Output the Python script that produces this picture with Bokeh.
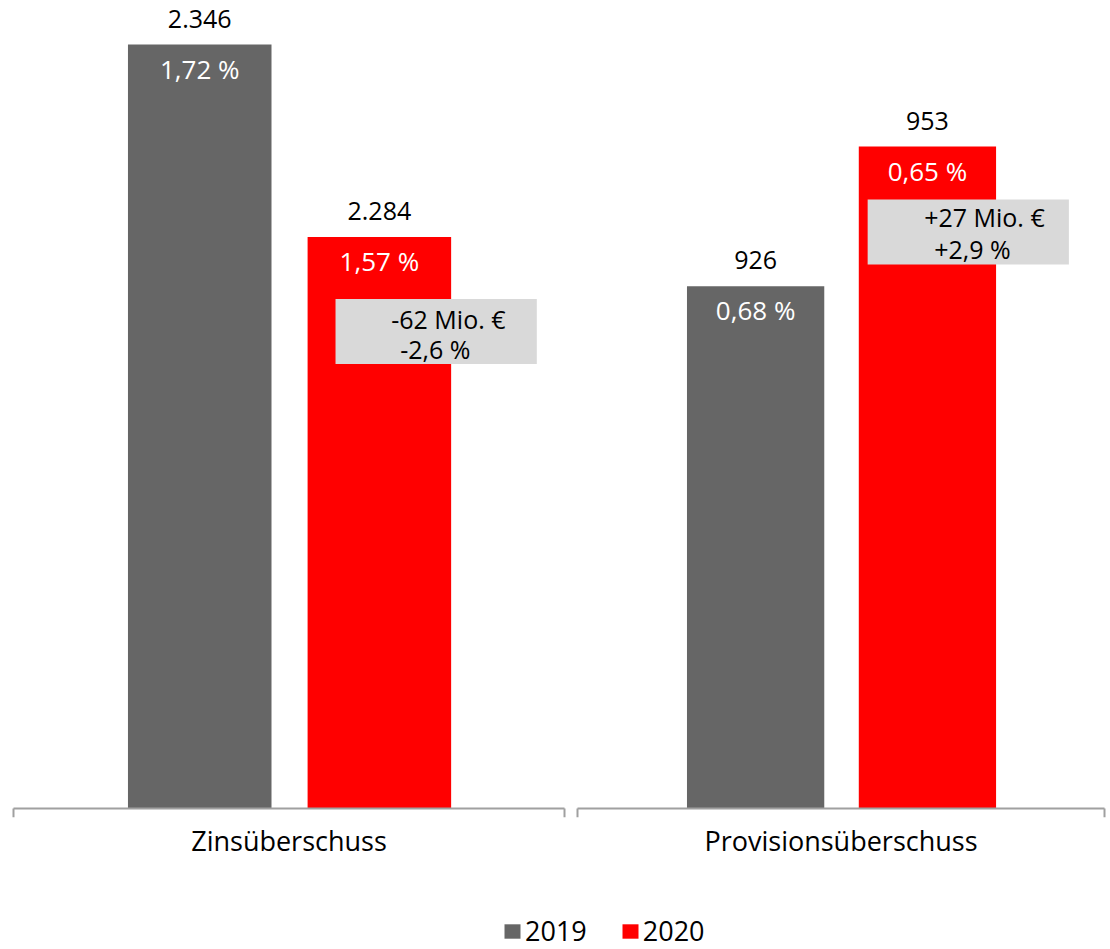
from bokeh.plotting import figure
from bokeh.models import (ColumnDataSource, FactorRange, Range1d, CategoricalAxis,
                          BoxAnnotation, Legend, LegendItem)
from bokeh.transform import dodge
from bokeh.layouts import row, column
from bokeh.core.properties import value
from bokeh.embed import file_html
from bokeh.resources import INLINE

# ---------------- data ----------------
categories = ["Zinsüberschuss", "Provisionsüberschuss"]
years = ["2019", "2020"]
values_2019 = [2346, 926]        # Mio. €
values_2020 = [2284, 953]        # Mio. €
margin_2019 = [1.72, 0.68]       # %
margin_2020 = [1.57, 0.65]

# axis limits of the two sub-charts (each has its own truncated scale)
axis_min = [2100, 825]
axis_max = [2357.6, 979.7]

# ---------------- style ----------------
GREY = "#666666"
RED = "#FF0000"
BOXC = "#D9D9D9"
AXISC = "#A0A0A0"
FONT = "Open Sans"
PLOT_H = 800      # px from axis_max to the axis line
TOP_PAD = 8       # extra px above axis_max
TICK = 9          # separator tick length below the axis line
DODGE19, DODGE20, BAR_W = -0.162, 0.164, 0.2605


def de_int(v):
    return f"{v:,}".replace(",", ".")


def de_pct(v, d):
    return f"{v:.{d}f}".replace(".", ",") + " %"


def signed(s, v):
    return ("+" if v > 0 else "") + s


def make_chart(i, fw, mbl, mbr, box_px, line_dx, line_dy):
    cat = categories[i]
    y0, y1 = axis_min[i], axis_max[i]
    ys = (y1 - y0) / PLOT_H
    v19, v20 = values_2019[i], values_2020[i]
    src = ColumnDataSource(dict(
        cat=[cat], v19=[v19], v20=[v20],
        t19=[de_int(v19)], t20=[de_int(v20)],
        p19=[de_pct(margin_2019[i], 2)], p20=[de_pct(margin_2020[i], 2)],
    ))
    xr = FactorRange(factors=[cat], range_padding=2.0 / fw, range_padding_units="absolute")
    p = figure(x_range=xr, y_range=Range1d(y0 - TICK * ys, y1 + TOP_PAD * ys),
               frame_width=fw + 2, frame_height=PLOT_H + TICK + TOP_PAD,
               x_axis_type=None, y_axis_type=None, toolbar_location=None,
               output_backend="svg", min_border_left=mbl, min_border_right=mbr,
               min_border_top=0, min_border_bottom=53)
    p.outline_line_color = None
    p.background_fill_color = "white"
    p.border_fill_color = "white"

    cax = CategoricalAxis(axis_line_color=None, major_tick_line_color=None,
                          minor_tick_line_color=None, major_tick_in=0, major_tick_out=0,
                          major_label_standoff=4, major_label_text_font=FONT,
                          major_label_text_font_size="27px", major_label_text_color="black")
    p.add_layout(cax, "below")

    x19 = dodge("cat", DODGE19, range=p.x_range)
    x20 = dodge("cat", DODGE20, range=p.x_range)
    p.vbar(x=x19, top="v19", bottom=y0, width=BAR_W, source=src, fill_color=GREY, line_color=None)
    p.vbar(x=x20, top="v20", bottom=y0, width=BAR_W, source=src, fill_color=RED, line_color=None)

    # axis line and separator ticks at both ends of the sub-chart
    p.segment(x0=[0, 0, 1], x1=[1, 0, 1], y0=[y0, y0, y0], y1=[y0, y0 - TICK * ys, y0 - TICK * ys],
              line_color=AXISC, line_width=2)

    common = dict(text_font=value(FONT), text_align="center", text_baseline="middle", source=src)
    p.text(x=x19, y="v19", text="t19", y_offset=-26, text_color="black", text_font_size="25px", **common)
    p.text(x=x20, y="v20", text="t20", y_offset=-26, text_color="black", text_font_size="25px", **common)
    p.text(x=x19, y="v19", text="p19", y_offset=24, text_color="white", text_font_size="26px", **common)
    p.text(x=x20, y="v20", text="p20", y_offset=24, text_color="white", text_font_size="26px", **common)

    # change annotation box, anchored at the 2020 bar
    xc = 0.5 + DODGE20
    p.add_layout(BoxAnnotation(left=xc + box_px[0] / fw, right=xc + box_px[1] / fw,
                               top=v20 - box_px[2] * ys, bottom=v20 - box_px[3] * ys,
                               fill_color=BOXC, fill_alpha=1.0, line_color=None))
    diff = v20 - v19
    pct = diff / v19 * 100
    bsrc = ColumnDataSource(dict(
        cat=[cat, cat], y=[v20, v20],
        text=[signed(de_int(diff), diff) + " Mio. €", signed(de_pct(pct, 1), pct)],
        dx=line_dx, dy=line_dy,
    ))
    tr = p.text(x=dodge("cat", DODGE20, range=p.x_range), y="y", text="text",
                x_offset="dx", y_offset="dy", text_font=value(FONT), text_font_size="25px",
                text_align="center", text_baseline="middle", text_color="black", source=bsrc)
    tr.level = "overlay"
    return p


f1 = make_chart(0, 553, 11, 4, (-44, 158, 62, 127), [69, 56], [82, 112])
f2 = make_chart(1, 529, 5, 2, (-60, 142, 53, 118), [57, 45], [70, 102])

# legend strip
f3 = figure(width=1108, height=79, x_range=FactorRange(factors=categories), y_range=Range1d(0, 1),
            x_axis_type=None, y_axis_type=None, toolbar_location=None, output_backend="svg",
            min_border=0)
f3.outline_line_color = None
l19 = f3.vbar(x=categories, top=values_2019, width=0.3, fill_color=GREY, line_color=None, visible=False)
l20 = f3.vbar(x=categories, top=values_2020, width=0.3, fill_color=RED, line_color=None, visible=False)
legend = Legend(items=[LegendItem(label=years[0], renderers=[l19]),
                       LegendItem(label=years[1], renderers=[l20])],
                orientation="horizontal", location=(502, 0),
                glyph_width=20, glyph_height=18, label_standoff=3, spacing=33,
                padding=0, margin=0, border_line_color=None, background_fill_alpha=0,
                label_text_font=FONT, label_text_font_size="27px", label_text_color="black")
f3.add_layout(legend)

layout = column(row(f1, f2), f3)
open("out.html", "w").write(file_html(layout, INLINE))
